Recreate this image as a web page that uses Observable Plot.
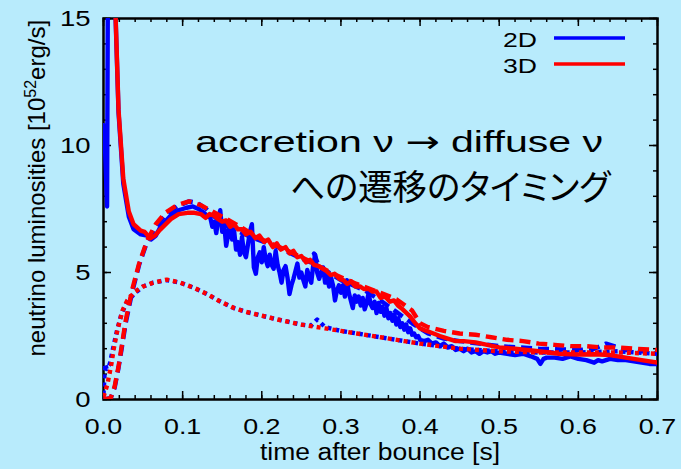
<!DOCTYPE html>
<html>
<head>
<meta charset="utf-8">
<script src="https://cdn.jsdelivr.net/npm/d3@7"></script>
<script src="https://cdn.jsdelivr.net/npm/@observablehq/plot@0.6"></script>
<style>
  html, body { margin: 0; padding: 0; background: #b8ebfc; }
  #chart svg { display: block; }
</style>
</head>
<body>
<div id="chart"></div>
<script>
// ---- Neutrino luminosities vs. time after bounce (units: 1e52 erg/s) ----

// 2D, electron neutrino (solid blue)
const t2dNue = [0.000,0.0015,0.0045,0.0055,0.008,0.011,0.0152,0.019,0.025,0.032,0.038,0.047,0.055,0.060,0.066,0.072,0.085,0.095,0.105,0.113,0.120,0.127,0.132,
  0.135,0.1375,0.140,0.1425,0.145,0.1475,0.150,0.1525,0.155,0.1575,0.160,0.1625,0.165,0.1675,0.170,0.1725,0.175,0.1775,0.180,0.1825,0.185,0.1875,0.190,0.1925,0.195,0.1975,
  0.200,0.2025,0.205,0.2075,0.210,0.2125,0.215,0.2175,0.220,0.2225,0.225,0.2275,0.230,0.2325,0.235,0.2375,0.240,0.2425,0.245,0.2475,
  0.250,0.2525,0.255,0.2575,0.260,0.2625,0.265,0.2675,0.270,0.2725,0.275,0.2775,0.280,0.2825,0.285,0.2875,0.290,0.2925,0.295,0.2975,
  0.300,0.3025,0.305,0.3075,0.310,0.3125,0.315,0.3175,0.320,0.3225,0.325,0.3275,0.330,0.3325,0.335,0.3375,0.340,0.3425,0.345,0.3475,
  0.350,0.3525,0.355,0.3575,0.360,0.3625,0.365,0.3675,0.370,0.3725,0.375,0.3775,0.380,0.3825,0.385,0.3875,0.390,0.3925,0.395,0.3975,
  0.400,0.405,0.410,0.415,0.420,0.425,0.430,0.435,0.440,0.445,0.450,0.455,0.460,0.465,0.470,0.475,0.480,0.485,0.490,0.495,
  0.500,0.510,0.520,0.530,0.540,0.548,0.552,0.556,0.560,0.570,0.580,0.590,0.600,0.610,0.620,0.625,0.630,0.640,0.650,0.660,0.670,0.680,0.690,0.700];
const L2dNue = [10.8,10.3,7.6,16,40,40,15.1,11.3,8.5,7.2,6.7,6.5,6.45,6.3,6.45,6.8,7.25,7.45,7.55,7.6,7.5,7.35,7.2,
  7.15,6.8,7.0,6.55,7.1,7.45,6.6,6.9,6.05,6.5,6.9,6.3,6.65,5.9,6.2,5.7,6.4,5.8,5.6,6.1,6.6,6.9,5.2,4.95,5.6,5.8,
  5.4,6.0,5.5,5.25,5.7,5.3,5.15,5.85,5.3,5.0,4.6,5.1,5.25,4.8,4.15,4.5,4.75,5.05,5.35,4.8,
  5.0,4.7,4.45,5.1,4.8,4.6,5.3,5.7,5.0,4.75,5.0,5.2,4.6,4.9,4.45,4.8,4.5,3.9,4.3,4.5,
  4.2,4.5,4.05,4.7,4.2,3.9,3.6,4.1,3.85,4.05,3.7,4.0,3.55,3.8,4.2,3.75,3.6,3.85,3.4,3.8,
  3.45,3.65,3.3,3.6,3.2,3.4,3.1,3.35,2.95,3.2,2.85,3.0,2.75,2.95,2.65,2.8,2.55,2.6,2.45,2.5,
  2.35,2.3,2.35,2.2,2.25,2.1,2.2,2.05,2.1,1.95,2.0,1.9,2.0,1.85,1.9,1.8,1.9,1.85,1.9,1.8,
  1.85,1.8,1.75,1.8,1.7,1.6,1.4,1.6,1.65,1.65,1.6,1.7,1.6,1.55,1.45,1.55,1.5,1.6,1.55,1.55,1.5,1.45,1.4,1.4];

// 2D, electron antineutrino (dashed blue)
const t2dNuebar = [0.000,0.009,0.014,0.019,0.024,0.028,0.036,0.045,0.055,0.066,0.078,0.093,0.108,0.118,0.130,0.140,0.160,0.190,0.220,0.250,0.262,0.266,0.272,0.300,0.330,0.350,0.370,0.390,0.410,0.430,0.450,0.500,0.550,0.600,0.620,0.635,0.645,0.660,0.680,0.700];
const L2dNuebar = [0.0,0.05,0.45,1.25,2.2,3.0,4.2,5.3,6.2,6.8,7.25,7.6,7.8,7.75,7.5,7.2,6.75,6.35,6.0,5.55,5.4,5.75,5.25,4.7,4.3,3.9,3.45,3.0,2.6,2.4,2.3,2.1,2.0,1.95,2.0,2.2,2.1,1.95,1.9,1.85];

// 2D, heavy-lepton neutrinos (dotted blue)
const t2dNux = [0.000,0.002,0.004,0.008,0.012,0.017,0.023,0.030,0.040,0.050,0.063,0.080,0.097,0.114,0.131,0.148,0.165,0.180,0.200,0.220,0.250,0.262,0.270,0.280,0.300,0.320,0.350,0.380,0.400,0.450,0.500,0.550,0.600,0.650,0.700];
const L2dNux = [0.2,1.4,1.2,1.4,2.0,2.7,3.4,3.85,4.2,4.45,4.6,4.7,4.6,4.4,4.15,3.85,3.6,3.45,3.3,3.15,2.95,2.9,3.15,2.85,2.7,2.6,2.45,2.3,2.2,2.0,1.9,1.85,1.85,1.9,1.8];

// 3D, electron neutrino (solid red)
const t3dNue = [0.000,0.011,0.0152,0.019,0.025,0.032,0.038,0.047,0.052,0.059,0.065,0.072,0.085,0.095,0.106,0.115,0.123,0.129,0.134,0.139,0.145,0.150,0.155,0.160,0.165,0.170,0.175,0.180,0.186,0.192,0.197,0.203,0.208,0.214,0.219,0.224,0.230,0.235,0.240,0.245,0.250,0.256,0.261,0.266,0.272,0.277,0.282,0.287,0.292,0.298,0.303,0.308,0.313,0.318,0.324,0.329,0.335,0.340,0.345,0.350,0.356,0.362,0.367,0.372,0.378,0.383,0.388,0.394,0.400,0.408,0.417,0.425,0.435,0.445,0.455,0.470,0.485,0.500,0.520,0.550,0.575,0.600,0.620,0.640,0.660,0.680,0.700];
const L3dNue = [40,40,15.2,11.4,8.7,7.4,6.9,6.65,6.6,6.35,6.45,6.7,7.1,7.3,7.35,7.35,7.3,7.15,7.3,7.25,7.1,7.0,7.05,6.8,6.9,6.7,6.7,6.5,6.6,6.35,6.45,6.2,6.3,6.0,6.15,5.9,6.0,5.75,5.85,5.6,5.65,5.4,5.5,5.3,5.25,5.15,5.05,4.9,4.95,4.75,4.7,4.55,4.65,4.45,4.45,4.35,4.35,4.25,4.25,4.0,4.05,3.85,3.9,3.7,3.55,3.4,3.25,3.0,2.8,2.7,2.6,2.5,2.4,2.3,2.3,2.25,2.15,2.05,2.0,1.9,1.8,1.77,1.78,1.75,1.65,1.55,1.45];

// 3D, electron antineutrino (dashed red)
const t3dNuebar = [0.000,0.009,0.014,0.019,0.024,0.028,0.036,0.045,0.055,0.066,0.078,0.093,0.108,0.123,0.135,0.150,0.170,0.200,0.230,0.260,0.290,0.320,0.350,0.370,0.390,0.400,0.410,0.430,0.450,0.470,0.490,0.510,0.530,0.550,0.570,0.590,0.610,0.630,0.650,0.670,0.700];
const L3dNuebar = [0.0,0.05,0.5,1.3,2.3,3.1,4.3,5.35,6.25,6.9,7.35,7.65,7.8,7.65,7.45,7.2,6.85,6.3,5.9,5.45,4.95,4.55,4.2,3.95,3.5,3.0,2.85,2.7,2.6,2.55,2.45,2.35,2.3,2.2,2.15,2.1,2.1,2.05,2.05,2.0,1.95];

// 3D, heavy-lepton neutrinos (dotted red)
const t3dNux = [0.000,0.005,0.010,0.013,0.018,0.024,0.030,0.040,0.050,0.063,0.080,0.097,0.114,0.131,0.148,0.165,0.180,0.200,0.220,0.250,0.280,0.300,0.320,0.350,0.380,0.400,0.450,0.500,0.550,0.600,0.650,0.700];
const L3dNux = [0.1,0.6,1.4,2.0,2.8,3.5,3.9,4.25,4.45,4.6,4.72,4.6,4.4,4.15,3.85,3.6,3.45,3.3,3.15,2.95,2.8,2.7,2.6,2.45,2.3,2.2,2.0,1.9,1.85,1.85,1.85,1.8];

// Axis ticks and labels
const xTicks = [0, 0.1, 0.2, 0.3, 0.4, 0.5, 0.6, 0.7];
const yTicks = [0, 5, 10, 15];
const xMinor = d3.range(0, 0.7001, 0.02);
const yMinor = d3.range(0, 15.001, 1);
const xLabel = "time after bounce [s]";
const legendNames = ["2D", "3D"];
const noteLine1 = ["accretion ν ", "→", " diffuse ν"];
const noteLine2 = "への遷移のタイミング";

const blue = "#0000ff", red = "#ff0000";
const bg = "#b8ebfc";

const W = 681, H = 469;
const mL = 103, mR = 24, mT = 18, mB = 70;
const xPerPx = 0.7 / (W - mL - mR);
const yPerPx = 15 / (H - mT - mB);

const rows = (ts, ls) => ts.map((t, i) => ({t, L: ls[i]}));

const lineOpts = (color, dash) => ({
  x: "t", y: "L", stroke: color, strokeWidth: 4.4, clip: true,
  strokeLinejoin: "round",
  strokeLinecap: dash ? "butt" : "round",
  strokeDasharray: dash || null
});
const DASH = "11,6", DOT = "4,4";

const tick = {stroke: "black", strokeWidth: 1.5};

const plot = Plot.plot({
  width: W, height: H,
  marginLeft: mL, marginRight: mR, marginTop: mT, marginBottom: mB,
  x: {domain: [0, 0.7], label: null},
  y: {domain: [0, 15], label: null},
  style: {background: bg, fontFamily: "'Liberation Sans', Arial, sans-serif", fontSize: "22px", color: "black", overflow: "visible"},
  marks: [
    // inward ticks on all four sides
    Plot.ruleX(xMinor, {x: d => d, y1: 0, y2: 4 * yPerPx, ...tick}),
    Plot.ruleX(xMinor, {x: d => d, y1: 15, y2: 15 - 4 * yPerPx, ...tick}),
    Plot.ruleX(xTicks, {x: d => d, y1: 0, y2: 8 * yPerPx, ...tick}),
    Plot.ruleX(xTicks, {x: d => d, y1: 15, y2: 15 - 8 * yPerPx, ...tick}),
    Plot.ruleY(yMinor, {y: d => d, x1: 0, x2: 4 * xPerPx, ...tick}),
    Plot.ruleY(yMinor, {y: d => d, x1: 0.7, x2: 0.7 - 4 * xPerPx, ...tick}),
    Plot.ruleY(yTicks, {y: d => d, x1: 0, x2: 8 * xPerPx, ...tick}),
    Plot.ruleY(yTicks, {y: d => d, x1: 0.7, x2: 0.7 - 8 * xPerPx, ...tick}),
    Plot.frame({stroke: "black", strokeWidth: 2.5}),
    Plot.axisX(xTicks, {tickSize: 0, tickPadding: 19, tickFormat: d3.format(".1f"), label: null, fontSize: 22}),
    Plot.axisY(yTicks, {tickSize: 0, tickPadding: 13, tickFormat: d3.format("d"), label: null, fontSize: 22}),
    // luminosity curves
    Plot.line(rows(t2dNue, L2dNue), lineOpts(blue)),
    Plot.line(rows(t2dNuebar, L2dNuebar), lineOpts(blue, DASH)),
    Plot.line(rows(t2dNux, L2dNux), lineOpts(blue, DOT)),
    Plot.line(rows(t3dNue, L3dNue), lineOpts(red)),
    Plot.line(rows(t3dNuebar, L3dNuebar), lineOpts(red, DASH)),
    Plot.line(rows(t3dNux, L3dNux), lineOpts(red, DOT))
  ]
});

document.getElementById("chart").appendChild(plot);

const svg = d3.select(plot);
const sx = plot.scale("x"), sy = plot.scale("y");
const fontSans = "'Liberation Sans', Arial, sans-serif";

// widen tick labels slightly
function widen(sel, factor) {
  sel.each(function () {
    const len = this.getComputedTextLength();
    if (len > 0) {
      d3.select(this).attr("textLength", len * factor).attr("lengthAdjust", "spacingAndGlyphs");
    }
  });
}
widen(svg.selectAll('g[aria-label="x-axis tick label"] text'), 1.22);
widen(svg.selectAll('g[aria-label="y-axis tick label"] text'), 1.25);

// x-axis title
svg.append("text")
  .attr("x", sx.apply(0.35)).attr("y", 460)
  .attr("text-anchor", "middle")
  .attr("font-family", fontSans).attr("font-size", 23).attr("fill", "black")
  .attr("textLength", 240).attr("lengthAdjust", "spacingAndGlyphs")
  .text(xLabel);

// y-axis title with superscript exponent
const yl = svg.append("text")
  .attr("transform", `translate(45,${sy.apply(8.3)}) rotate(-90)`)
  .attr("text-anchor", "middle")
  .attr("font-family", fontSans).attr("font-size", 24).attr("fill", "black");
yl.append("tspan").text("neutrino luminosities [10");
yl.append("tspan").attr("dy", -9).attr("font-size", 16).text("52");
yl.append("tspan").attr("dy", 9).text("erg/s]");

// legend
const legend = svg.append("g");
[[legendNames[0], blue, 47, 38], [legendNames[1], red, 73, 64]].forEach(([name, color, by, ly]) => {
  legend.append("text")
    .attr("x", 537).attr("y", by)
    .attr("text-anchor", "end")
    .attr("font-family", fontSans).attr("font-size", 21).attr("fill", "black")
    .attr("textLength", 34).attr("lengthAdjust", "spacingAndGlyphs")
    .text(name);
  legend.append("line")
    .attr("x1", 554).attr("x2", 625).attr("y1", ly).attr("y2", ly)
    .attr("stroke", color).attr("stroke-width", 3.5);
});

// annotation
const note1 = svg.append("text")
  .attr("x", sx.apply(0.632)).attr("y", sy.apply(9.72))
  .attr("text-anchor", "end")
  .attr("font-family", fontSans).attr("font-size", 30).attr("fill", "black")
  .attr("textLength", 408).attr("lengthAdjust", "spacingAndGlyphs");
note1.append("tspan").text(noteLine1[0]);
note1.append("tspan").attr("font-family", "'DejaVu Sans', sans-serif").attr("font-size", 30).text(noteLine1[1]);
note1.append("tspan").text(noteLine1[2]);

svg.append("text")
  .attr("x", sx.apply(0.641)).attr("y", sy.apply(7.83))
  .attr("text-anchor", "end")
  .attr("font-family", "'Noto Sans CJK JP', sans-serif").attr("font-size", 35).attr("fill", "black")
  .style("font-feature-settings", "'palt'")
  .attr("textLength", 320).attr("lengthAdjust", "spacingAndGlyphs")
  .text(noteLine2);
</script>
</body>
</html>
